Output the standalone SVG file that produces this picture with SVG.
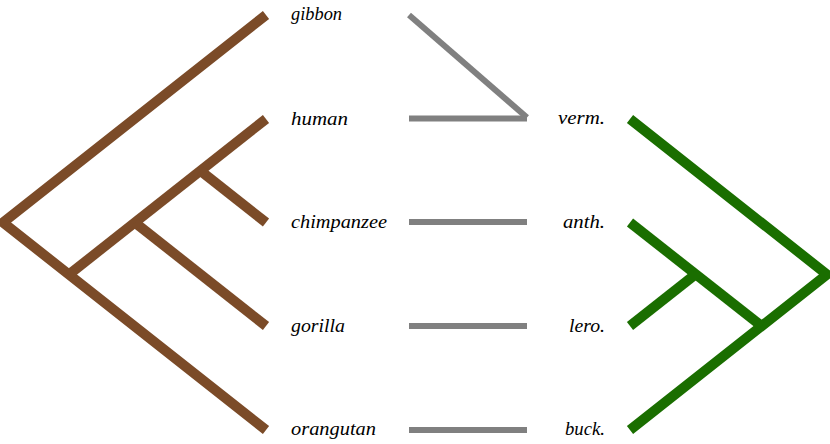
<svg xmlns="http://www.w3.org/2000/svg" width="830" height="444" viewBox="0 0 830 444">
<style>
.lbl{font-family:"Liberation Serif","Times New Roman",serif;font-style:italic;font-size:19px;fill:#000}
.r{text-anchor:end}
.brown{stroke:#7b4b28;stroke-width:10;fill:none;stroke-linecap:butt}
.green{stroke:#1a6e00;stroke-width:10;fill:none;stroke-linecap:butt}
.gray{stroke:#808080;stroke-width:6;fill:none;stroke-linecap:butt}
</style>
<rect width="830" height="444" fill="#fff"/>
<g id="connectors">
  <g id="host-tree">
    <polyline class="brown" points="266,15 3,222.5 266,430"/>
    <line class="brown" x1="69" y1="274.5" x2="266" y2="119"/>
    <line class="brown" x1="134.8" y1="222.5" x2="266" y2="326"/>
    <line class="brown" x1="200.4" y1="170.8" x2="266" y2="222.5"/>
  </g>
  <g id="parasite-tree">
    <polyline class="green" points="630,119 827,274.5 630,430"/>
    <line class="green" x1="630" y1="222.5" x2="761.5" y2="326"/>
    <line class="green" x1="630" y1="326" x2="695.6" y2="274.3"/>
  </g>
  <g id="associations">
    <line class="gray" x1="409" y1="15" x2="527" y2="117.5"/>
    <line class="gray" x1="409" y1="118.5" x2="527" y2="118.5"/>
    <line class="gray" x1="409" y1="222" x2="527" y2="222"/>
    <line class="gray" x1="409" y1="326" x2="527" y2="326"/>
    <line class="gray" x1="409" y1="430" x2="527" y2="430"/>
  </g>
</g>
<g id="gibbon"><text class="lbl" x="291" y="20" textLength="51" lengthAdjust="spacingAndGlyphs">gibbon</text></g>
<g id="human"><text class="lbl" x="291" y="124.5" textLength="57" lengthAdjust="spacingAndGlyphs">human</text></g>
<g id="chimpanzee"><text class="lbl" x="291" y="228" textLength="96" lengthAdjust="spacingAndGlyphs">chimpanzee</text></g>
<g id="gorilla"><text class="lbl" x="291" y="331.5" textLength="54" lengthAdjust="spacingAndGlyphs">gorilla</text></g>
<g id="orangutan"><text class="lbl" x="291" y="435" textLength="85" lengthAdjust="spacingAndGlyphs">orangutan</text></g>
<g id="verm"><text class="lbl" x="558" y="123.5" textLength="47" lengthAdjust="spacingAndGlyphs">verm.</text></g>
<g id="anth"><text class="lbl" x="563" y="227.5" textLength="42" lengthAdjust="spacingAndGlyphs">anth.</text></g>
<g id="lero"><text class="lbl" x="569" y="331.5" textLength="36" lengthAdjust="spacingAndGlyphs">lero.</text></g>
<g id="buck"><text class="lbl" x="565" y="435" textLength="40" lengthAdjust="spacingAndGlyphs">buck.</text></g>
</svg>
